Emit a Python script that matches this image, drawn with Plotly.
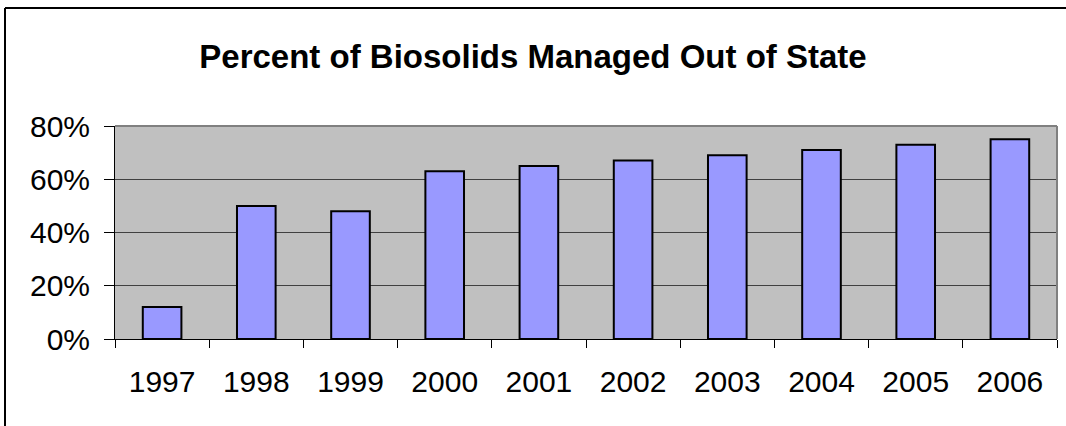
import plotly.graph_objects as go

years = ["1997", "1998", "1999", "2000", "2001", "2002", "2003", "2004", "2005", "2006"]
percent_out_of_state = [12, 50, 48, 63, 65, 67, 69, 71, 73, 75]
y_ticks = [0, 20, 40, 60, 80]
y_tick_labels = ["0%", "20%", "40%", "60%", "80%"]
title_text = "Percent of Biosolids Managed Out of State"

W, H = 1066, 426
L, R, T, B = 115, 9, 126, 87
pw = W - L - R
ph = H - T - B

def px_x(px):
    return (px - L) / pw

def px_y(py):
    return (H - B - py) / ph

fig = go.Figure()
fig.add_trace(go.Bar(
    x=years, y=percent_out_of_state,
    marker=dict(color="#9999FF", line=dict(color="black", width=2)),
    width=0.41,
))

fig.update_layout(
    width=W, height=H,
    margin=dict(l=L, r=R, t=T, b=B),
    paper_bgcolor="white",
    plot_bgcolor="#C0C0C0",
    showlegend=False,
    font=dict(family="Liberation Sans, Arial, sans-serif", color="black"),
    title=dict(text="<b>" + title_text + "</b>", x=0.5, xref="container", xanchor="center",
               y=1 - 56 / H, yref="container", yanchor="middle",
               font=dict(size=33, family="Liberation Sans, Arial, sans-serif", color="black")),
    xaxis=dict(
        tickfont=dict(size=30),
        ticks="outside", ticklen=8, tickcolor="black", tickwidth=1,
        tickson="boundaries",
        showline=True, linecolor="black", linewidth=1,
        showgrid=False,
        range=[-0.5, 9.5],
        ticklabelstandoff=16,
    ),
    yaxis=dict(
        range=[0, 80],
        tickvals=y_ticks, ticktext=y_tick_labels,
        tickfont=dict(size=30),
        ticks="outside", ticklen=10, tickcolor="black", tickwidth=1,
        showline=True, linecolor="black", linewidth=1,
        showgrid=True, gridcolor="#404040", gridwidth=1,
        zeroline=False,
        ticklabelstandoff=8,
    ),
    shapes=[
        dict(type="line", xref="paper", yref="paper", x0=0, x1=1, y0=1, y1=1,
             line=dict(color="#808080", width=2)),
        dict(type="line", xref="paper", yref="paper", x0=1, x1=1, y0=0, y1=1,
             line=dict(color="#808080", width=2)),
        dict(type="line", xref="paper", yref="paper", x0=px_x(5), x1=px_x(W), y0=px_y(8), y1=px_y(8),
             line=dict(color="black", width=2)),
        dict(type="line", xref="paper", yref="paper", x0=px_x(5), x1=px_x(5), y0=px_y(8), y1=px_y(H),
             line=dict(color="black", width=2)),
    ],
)

fig.write_html("out.html", config={"displayModeBar": False},
               post_script="document.body.style.margin='0';document.body.style.overflow='hidden';"
                           "document.documentElement.style.overflow='hidden';")
